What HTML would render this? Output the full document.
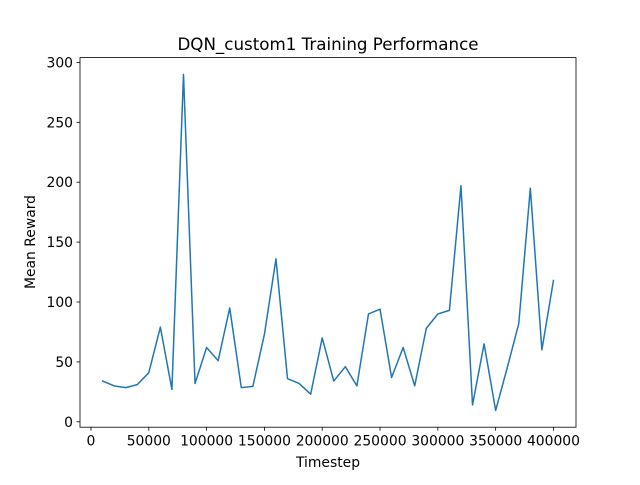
<!DOCTYPE html>
<html><head><meta charset="utf-8"><style>
html,body{margin:0;padding:0;background:#fff}
svg text{font-family:"DejaVu Sans","Liberation Sans",sans-serif;fill:#000}
</style></head><body>
<svg id="c" width="640" height="480" xmlns="http://www.w3.org/2000/svg">
<rect width="640" height="480" fill="#fff"/>
<text x="328" y="50" font-size="16.7" text-anchor="middle">DQN_custom1 Training Performance</text>
<g id="plot"></g>
<rect x="80" y="57.6" width="496" height="369.6" fill="none" stroke="#000" stroke-width="0.8"/>
<text x="328" y="467" font-size="13.9" text-anchor="middle">Timestep</text>
<text transform="translate(35,242) rotate(-90)" font-size="13.9" text-anchor="middle">Mean Reward</text>
</svg>
<script>
const timesteps=[10000,20000,30000,40000,50000,60000,70000,80000,90000,100000,110000,120000,130000,140000,150000,160000,170000,180000,190000,200000,210000,220000,230000,240000,250000,260000,270000,280000,290000,300000,310000,320000,330000,340000,350000,360000,370000,380000,390000,400000];
const rewards=[34,30,28.5,31,41,79,27,290,32,62,51,95,28.5,29.5,73,136,36,32,23,70,34,46,30,90,94,37,62,30,78,90,93,197,14,65,9.5,45,82,195,60,118];
const xTicks=[0,50000,100000,150000,200000,250000,300000,350000,400000];
const yTicks=[0,50,100,150,200,250,300];
const L=80,R=576,T=57.6,B=427.2;
const xmin=Math.min(...timesteps),xmax=Math.max(...timesteps),xr=xmax-xmin;
const ymin=Math.min(...rewards),ymax=Math.max(...rewards),yr=ymax-ymin;
const x0=xmin-0.05*xr,x1=xmax+0.05*xr,y0=ymin-0.05*yr,y1=ymax+0.05*yr;
const sx=v=>L+(v-x0)/(x1-x0)*(R-L);
const sy=v=>B-(v-y0)/(y1-y0)*(B-T);
const NS="http://www.w3.org/2000/svg";
const g=document.getElementById('plot');
function mk(t,a){const e=document.createElementNS(NS,t);for(const k in a)e.setAttribute(k,a[k]);g.appendChild(e);return e;}
xTicks.forEach(v=>{
 const x=sx(v);
 const l=mk('line',{x1:x,x2:x,y1:B,y2:B+3.5,stroke:'#000','stroke-width':0.8});
 
 
 const t=mk('text',{x:x,y:B+18.5,'font-size':13.9,'text-anchor':'middle'});
 t.textContent=v;
 
 
});
yTicks.forEach(v=>{
 const y=sy(v);
 const l=mk('line',{x1:L-3.5,x2:L,y1:y,y2:y,stroke:'#000','stroke-width':0.8});
 
 
 const t=mk('text',{x:L-7,y:y+5,'font-size':13.9,'text-anchor':'end'});
 t.textContent=v;
 
 
});
const pts=timesteps.map((t,i)=>sx(t).toFixed(2)+','+sy(rewards[i]).toFixed(2)).join(' ');
const p=mk('polyline',{points:pts,fill:'none',stroke:'#1f77b4','stroke-width':1.5,'stroke-linejoin':'round','stroke-linecap':'square'});


</script>
</body></html>
